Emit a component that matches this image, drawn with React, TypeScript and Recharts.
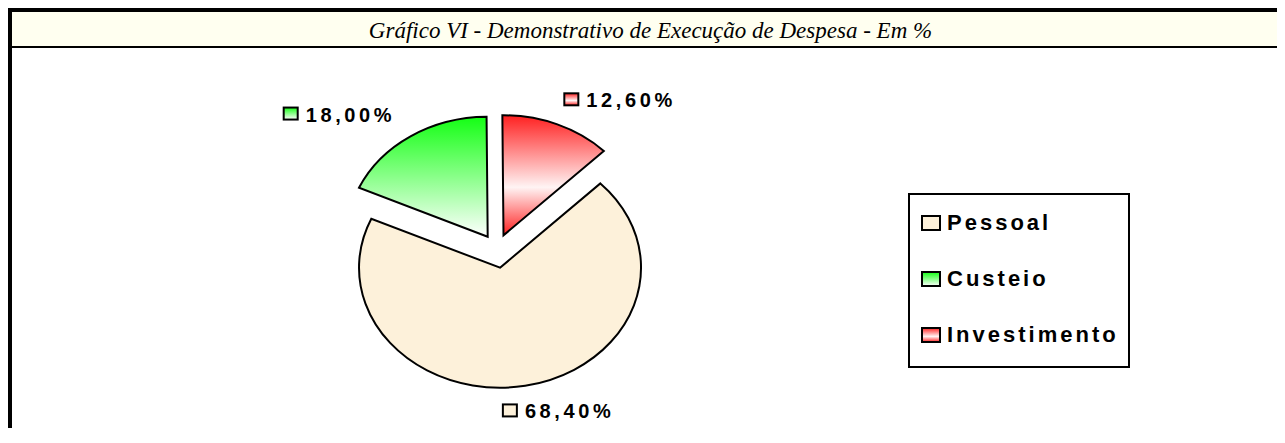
import React from 'react';
import { PieChart, Pie, Cell, Legend } from 'recharts';

const categories = ['Pessoal', 'Custeio', 'Investimento'];
const percentages = [68.4, 18.0, 12.6];
const fills = ['#FDF1DA', 'url(#gradCusteio)', 'url(#gradInvestimento)'];

const data = categories.map((name, i) => ({ name, value: percentages[i] }));

const STRETCH = 1.175; // the original pie is wider than tall
const EXPLODE = 17;
const RAD = Math.PI / 180;
const FONT = '"Liberation Sans", Arial, sans-serif';

const fmt = (v: number) => v.toFixed(2).replace('.', ',') + '%';

const explodedCenter = (cx: number, cy: number, mid: number) => [
  cx + EXPLODE * Math.cos(-mid * RAD),
  cy + EXPLODE * Math.sin(-mid * RAD),
];

// elliptical, exploded sector
const ellipseSector = (props: any) => {
  const { cx, cy, outerRadius, startAngle, endAngle, fill } = props;
  const mid = props.midAngle ?? (startAngle + endAngle) / 2;
  const [ox, oy] = explodedCenter(cx, cy, mid);
  const rx = outerRadius * STRETCH;
  const ry = outerRadius;
  const pt = (a: number) => [ox + rx * Math.cos(-a * RAD), oy + ry * Math.sin(-a * RAD)];
  const [x1, y1] = pt(startAngle);
  const [x2, y2] = pt(endAngle);
  const large = Math.abs(endAngle - startAngle) > 180 ? 1 : 0;
  const sweep = startAngle > endAngle ? 1 : 0;
  return (
    <path
      d={`M${ox},${oy} L${x1},${y1} A${rx},${ry} 0 ${large} ${sweep} ${x2},${y2} Z`}
      fill={fill}
      stroke="#000"
      strokeWidth={2}
    />
  );
};

const renderLabel = (props: any) => {
  const { cx, cy, midAngle, outerRadius, index, value } = props;
  const [ox, oy] = explodedCenter(cx, cy, midAngle);
  const lx = ox + outerRadius * 2.375 * Math.cos(-midAngle * RAD);
  const ly = oy + outerRadius * 1.217 * Math.sin(-midAngle * RAD);
  return (
    <g key={`lbl-${index}`}>
      <rect x={lx - 48} y={ly - 7} width={14} height={12} fill={fills[index]} stroke="#000" strokeWidth={2} />
      <text
        x={lx - 26}
        y={ly}
        dominantBaseline="central"
        fontFamily={FONT}
        fontWeight="bold"
        fontSize={20}
        letterSpacing={3.6}
        fill="#000"
      >
        {fmt(value)}
      </text>
    </g>
  );
};

const renderLegend = () => (
  <div style={{ width: 218, height: 171, border: '2px solid #000', background: '#fff' }}>
    {categories.map((name, i) => (
      <div key={name} style={{ display: 'flex', alignItems: 'center', height: 56, paddingLeft: 11 }}>
        <svg width={20} height={16} style={{ display: 'block' }}>
          <rect x={1} y={1} width={18} height={14} fill={fills[i]} stroke="#000" strokeWidth={2} />
        </svg>
        <span
          style={{
            marginLeft: 6,
            fontFamily: FONT,
            fontWeight: 'bold',
            fontSize: 22,
            letterSpacing: 3,
            color: '#000',
          }}
        >
          {name}
        </span>
      </div>
    ))}
  </div>
);

export default function App() {
  return (
    <div style={{ width: 1277, borderTop: '4px solid #000', borderLeft: '4px solid #000' }}>
      <style>{'html,body{overflow:hidden}'}</style>
      <div
        style={{
          height: 34,
          overflow: 'hidden',
          background: '#FFFFF0',
          borderBottom: '2px solid #000',
          textAlign: 'center',
          fontFamily: '"Liberation Serif", "Times New Roman", serif',
          fontStyle: 'italic',
          fontSize: 23,
          lineHeight: '38px',
        }}
      >
        Gráfico VI - Demonstrativo de Execução de Despesa - Em %
      </div>
      <PieChart width={1273} height={380} margin={{ top: 0, right: 0, bottom: 0, left: 0 }}>
        <defs>
          <linearGradient id="gradCusteio" x1="0" y1="0" x2="0" y2="1">
            <stop offset="0%" stopColor="#14FF14" />
            <stop offset="100%" stopColor="#FFFFFF" />
          </linearGradient>
          <linearGradient id="gradInvestimento" x1="0" y1="0" x2="0" y2="1">
            <stop offset="0%" stopColor="#FF2020" />
            <stop offset="60%" stopColor="#FFF4F4" />
            <stop offset="100%" stopColor="#FF2020" />
          </linearGradient>
        </defs>
        <Pie
          data={data}
          dataKey="value"
          nameKey="name"
          cx={485}
          cy={203}
          outerRadius={120}
          startAngle={90 - 45.36}
          endAngle={90 - 45.36 - 360}
          shape={ellipseSector}
          label={renderLabel}
          labelLine={false}
          isAnimationActive={false}
        >
          {data.map((d, i) => (
            <Cell key={d.name} fill={fills[i]} />
          ))}
        </Pie>
        <Legend
          layout="vertical"
          align="right"
          verticalAlign="middle"
          content={renderLegend}
          wrapperStyle={{ left: 896, top: 145, width: 'auto', right: 'auto' }}
        />
      </PieChart>
    </div>
  );
}
